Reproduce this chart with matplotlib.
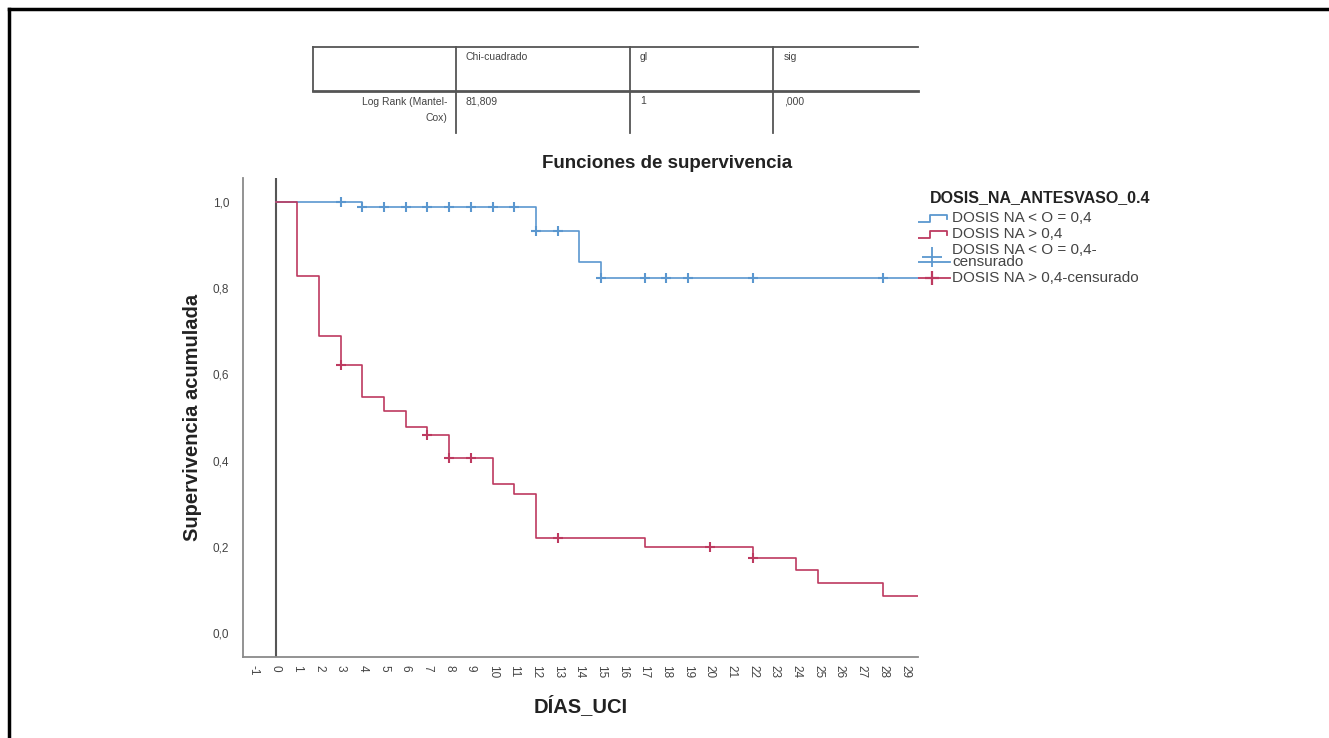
import numpy as np
import matplotlib
matplotlib.use("Agg")
import matplotlib.pyplot as plt

plt.rcParams['font.family'] = ['Liberation Sans', 'DejaVu Sans']

# Kaplan-Meier steps
blue_times = [0, 4, 12, 14, 15]
blue_surv = [1.0, 0.988, 0.934, 0.862, 0.823]
blue_cens = [3, 4, 5, 6, 7, 8, 9, 10, 11, 12, 13, 15, 17, 18, 19, 22, 28]

red_times = [0, 1, 2, 3, 4, 5, 6, 7, 8, 10, 11, 12, 17, 22, 24, 25, 28]
red_surv = [1.0, 0.828, 0.69, 0.622, 0.548, 0.516, 0.477, 0.46, 0.405,
            0.345, 0.323, 0.221, 0.199, 0.174, 0.146, 0.116, 0.085]
red_cens = [3, 7, 8, 9, 13, 20, 22]

t_end = 29.6
x_ticks = list(range(-1, 30))
y_ticks = [0.0, 0.2, 0.4, 0.6, 0.8, 1.0]

group_labels = ['DOSIS NA < O = 0,4', 'DOSIS NA > 0,4',
                'DOSIS NA < O = 0,4-\ncensurado', 'DOSIS NA > 0,4-censurado']
legend_title = 'DOSIS_NA_ANTESVASO_0.4'

table_cols = ['Chi-cuadrado', 'gl', 'sig']
table_row = ['Log Rank (Mantel-\nCox)', '81,809', '1', ',000']

blue = '#5b97cf'
red = '#bd3a60'

W, H = 1329, 738
fig = plt.figure(figsize=(W / 100, H / 100), dpi=100)

# overlay in pixel coordinates for table, border, legend
ov = fig.add_axes([0, 0, 1, 1])
ov.set_xlim(0, W)
ov.set_ylim(H, 0)
ov.axis('off')

ax = fig.add_axes([243 / W, 1 - 657 / H, (918 - 243) / W, (657 - 178) / H])


def surv_at(times, surv, t):
    i = np.searchsorted(times, t, side='right') - 1
    return surv[i]


for times, surv, cens, c in [(blue_times, blue_surv, blue_cens, blue),
                             (red_times, red_surv, red_cens, red)]:
    xs = times + [t_end]
    ys = surv + [surv[-1]]
    ax.step(xs, ys, where='post', color=c, lw=1.2, zorder=3)
    cy = [surv_at(times, surv, t) for t in cens]
    ax.plot(cens, cy, ls='none', marker='+', ms=7.5, mew=1.5, color=c, zorder=4)

ax.axvline(0, color='#555555', lw=1.5, zorder=2)

ax.set_xlim(-1.5, t_end)
ax.set_ylim(-0.056, 1.056)
ax.set_xticks(x_ticks)
ax.set_xticklabels([str(v) for v in x_ticks], rotation=270, fontsize=8.5, color='#444444')
ax.set_yticks(y_ticks)
ax.set_yticklabels([('%.1f' % v).replace('.', ',') for v in y_ticks], fontsize=8.5, color='#444444')
ax.tick_params(axis='y', length=0, pad=10)
ax.tick_params(axis='x', length=0, pad=6)
for s in ['top', 'right']:
    ax.spines[s].set_visible(False)
for s in ['left', 'bottom']:
    ax.spines[s].set_color('#8a8a8a')
    ax.spines[s].set_linewidth(1.3)

ax.set_xlabel('DÍAS_UCI', fontsize=14.5, fontweight='bold', labelpad=12, color='#222222')
ax.set_ylabel('Supervivencia acumulada', fontsize=14.5, fontweight='bold', labelpad=8, color='#222222')

ov.text(667, 164, 'Funciones de supervivencia', fontsize=13.5, fontweight='bold',
        ha='center', va='center', color='#222222')

# outer border
ov.plot([9, W], [9, 9], color='black', lw=2.5)
ov.plot([9, 9], [9, H], color='black', lw=2.5)

# log-rank table
tc = '#555555'
ov.plot([313, 918], [47, 47], color=tc, lw=1.3)
ov.plot([313, 918], [91, 91], color=tc, lw=2)
ov.plot([313, 313], [47, 91], color=tc, lw=1.3)
for x in [456, 630, 773]:
    ov.plot([x, x], [47, 133], color=tc, lw=1.3)
for x, txt in zip([466, 640, 784], table_cols):
    ov.text(x, 57, txt, fontsize=7.5, color='#444444', va='center')
ov.text(447, 110, table_row[0], fontsize=7.5, color='#444444', va='center', ha='right',
        multialignment='right', linespacing=1.7)
for x, txt in zip([466, 640, 784], table_row[1:]):
    ov.text(x, 101, txt, fontsize=7.5, color='#444444', va='center')

# legend
ov.text(930, 198, legend_title, fontsize=11.5, fontweight='bold', va='center', color='#222222')
ys_leg = [218, 234, 256, 278]
for y, c in zip(ys_leg[:2], [blue, red]):
    ov.plot([913, 930, 930, 947, 947], [y + 4, y + 4, y - 3, y - 3, y + 1], color=c, lw=1.3)
ov.plot([910, 950], [262, 262], color=blue, lw=1.3)
ov.plot([932], [257], marker='+', ms=14, mew=1.3, color=blue)
ov.plot([912, 950], [278, 278], color=red, lw=1.3)
ov.plot([932], [278], marker='+', ms=10, mew=1.6, color=red)
for y, txt in zip(ys_leg, group_labels):
    ov.text(952, y, txt, fontsize=11, va='center', color='#444444', linespacing=0.85)

fig.savefig('out.png', dpi=100)
